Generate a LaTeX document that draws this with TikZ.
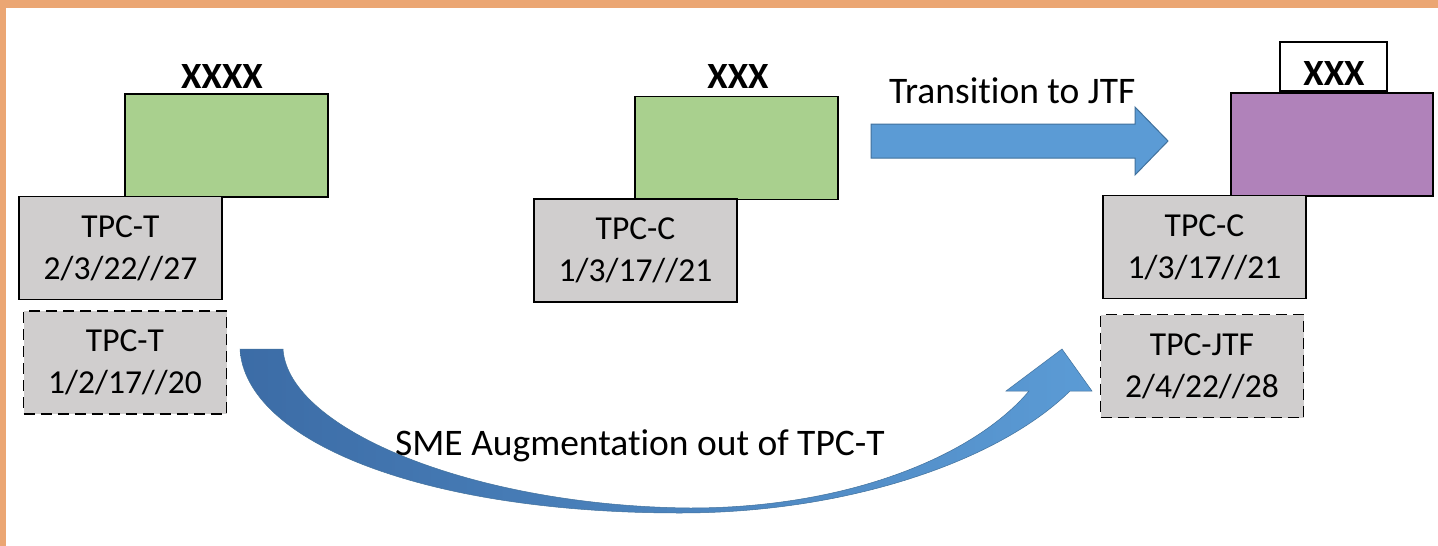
\documentclass[tikz,border=0pt]{standalone}
\usepackage{fontspec}
\setmainfont{Carlito}[Ligatures={NoCommon,NoRequired,NoContextual,NoRare}]
\definecolor{bord}{RGB}{235,166,115}
\definecolor{grn}{RGB}{169,208,142}
\definecolor{prp}{RGB}{176,130,186}
\definecolor{gry}{RGB}{208,206,206}
\definecolor{blu}{RGB}{91,155,213}
\definecolor{bluedge}{RGB}{65,113,156}
\definecolor{bludark}{RGB}{60,108,166}
\newcommand{\nolig}{\kern0pt{}}
\tikzset{
  box/.style={draw=black, line width=1.8pt, inner sep=0pt, minimum width=203pt, minimum height=103pt},
  greenbox/.style={box, fill=grn},
  purplebox/.style={box, fill=prp},
  graybox/.style={box, fill=gry, align=center, font=\fontsize{33.5}{42}\selectfont},
  dashbox/.style={graybox, dash pattern=on 11pt off 6pt},
  titletext/.style={font=\bfseries\fontsize{37}{37}\selectfont, inner sep=0pt},
  labeltext/.style={font=\fontsize{37.5}{37.5}\selectfont, inner sep=0pt, anchor=base west},
  blockarrow/.style={fill=blu, draw=bluedge, line width=1pt}
}
\begin{document}
\begin{tikzpicture}[x=1pt,y=-1pt]
\useasboundingbox (0,0) rectangle (1438,546);
\fill[white] (0,0) rectangle (1438,546);
\fill[bord] (0,0) rectangle (1438,8);
\fill[bord] (0,0) rectangle (6,546);

% left group
\node[greenbox] (g1) at (226.5,145.5) {};
\node[graybox] (t1) at (120.5,248) {TPC-T\\2/3/22//27};
\node[dashbox] (t1d) at (125,362.5) {TPC-T\\1/2/17//20};
\node[titletext] (x1) at (222,77) {XXXX};

% middle group
\node[greenbox] (g2) at (736.5,148) {};
\node[graybox] (c1) at (635.5,250.5) {TPC-C\\1/3/17//21};
\node[titletext] (x2) at (738,77) {XXX};

% right group
\node[purplebox, minimum width=202pt] (p) at (1332,144.5) {};
\node[box, fill=white, minimum width=107pt, minimum height=49pt] (x3) at (1333.5,66.5) {};
\node[titletext] (x3t) at (1334,74) {XXX};
\node[graybox] (c2) at (1204.5,247) {TPC-C\\1/3/17//21};
\node[dashbox] (jtf) at (1202,366) {TPC-JTF\\2/4/22//28};

% straight block arrow
\path[blockarrow] (871,124) -- (1135,124) -- (1135,107) -- (1168,141) -- (1135,175) -- (1135,158) -- (871,158) -- cycle;
\node[labeltext] (trans) at (889,103) {Transit\nolig ion to JTF};

% curved block arrow
\shadedraw[draw=bluedge, line width=0.5pt, left color=bludark, right color=blu]
  (240,349) -- (283,349)
  .. controls (288,430) and (475,506) .. (690,508)
  .. controls (850,508) and (975,455) .. (1029,391)
  -- (1006,391) -- (1062,349) -- (1092,391) -- (1070,391)
  .. controls (1000,460) and (850,513) .. (680,513)
  .. controls (420,513) and (245,440) .. (240,349) -- cycle;
\node[labeltext] (sme) at (395,455) {SME Augmentat\nolig ion out of TPC-T};
\end{tikzpicture}
\end{document}
